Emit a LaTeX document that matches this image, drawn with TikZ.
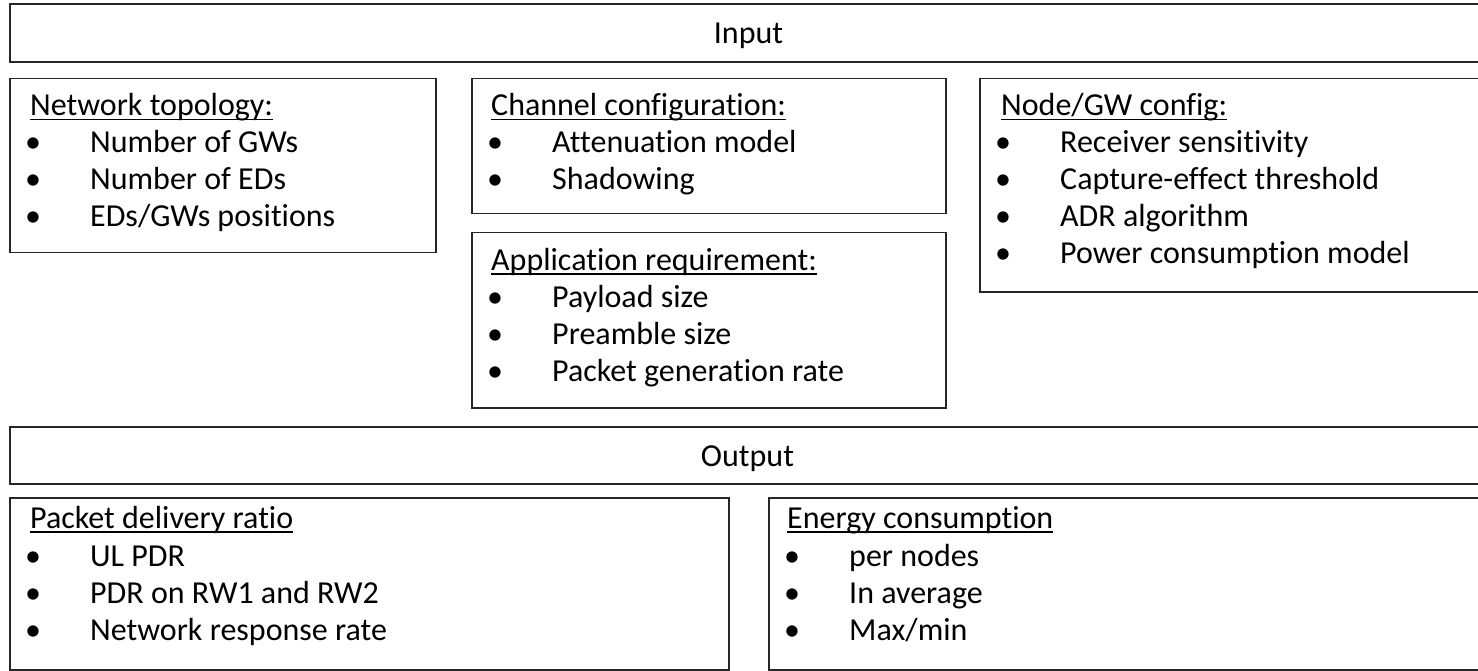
\documentclass[tikz,border=0pt]{standalone}
\usepackage{fontspec}
\setmainfont{Carlito}[Ligatures={NoCommon,NoContextual}]

% underline at a fixed depth, drawn through descenders
\newsavebox\ulbox
\newcommand\ulined[1]{\sbox\ulbox{#1}\rlap{\rule[-4.5pt]{\wd\ulbox}{1.5pt}}\usebox\ulbox}

\tikzset{
  panel/.style={draw=black!85, line width=1.5pt, rectangle, inner sep=0pt, anchor=north west},
  txt/.style={inner sep=0pt, anchor=base west, font=\fontsize{32}{37}\selectfont},
  ctxt/.style={txt, anchor=base},
  dotmark/.style={inner sep=0pt, anchor=base, font=\fontsize{32}{37}\selectfont},
}

% a framed panel: name, left, top, right, bottom
\newcommand\panel[5]{%
  \node[panel, minimum width={#4-#2}, minimum height={#5-#3}] (#1) at (#2,#3) {};}

% bulleted list: name prefix, bullet x, text x, first baseline, items
\newcommand\bulletlist[5]{%
  \foreach \t [count=\i from 0] in {#5} {
    \node[dotmark] (#1-b\i) at ({#2},{#4+37*\i}) {\textbullet};
    \node[txt] (#1-t\i) at ({#3},{#4+37*\i}) {\t};
  }}

\begin{document}
\begin{tikzpicture}[x=1pt, y=-1pt]
  \useasboundingbox (0,0) rectangle (1478,671);
  \clip (0,0) rectangle (1478,671);

  % ---- input side ----
  \panel{input}{9}{3.5}{1488}{61.5}
  \node[ctxt] (inputlbl) at (748.5,44) {Input};

  \panel{topo}{9}{78}{435}{252}
  \node[txt] (topo-title) at (30,116) {\ulined{Network topology:}};
  \bulletlist{topo}{33}{90}{153}{Number of GWs, Number of EDs, EDs/GWs positions}

  \panel{chan}{471}{78}{945}{213}
  \node[txt] (chan-title) at (491,116) {\ulined{Channel configuration:}};
  \bulletlist{chan}{495}{552}{153}{Attenuation model, Shadowing}

  \panel{app}{471}{232}{945}{407}
  \node[txt] (app-title) at (491,270) {\ulined{Application requirement:}};
  \bulletlist{app}{495}{552}{307}{Payload size, Preamble size, Packet generation rate}

  \panel{nodecfg}{979}{78}{1488}{291}
  \node[txt] (nodecfg-title) at (1001,116) {\ulined{Node/GW config:}};
  \bulletlist{nodecfg}{1003}{1060}{153}{Receiver sensitivity, Capture-effect threshold, ADR algorithm, Power consumption model}

  % ---- output side ----
  \panel{output}{9}{426}{1488}{483}
  \node[ctxt] (outputlbl) at (747.5,466) {Output};

  \panel{pdr}{9}{497}{728}{669}
  \node[txt] (pdr-title) at (30,528) {\ulined{Packet delivery ratio}};
  \bulletlist{pdr}{33}{90}{566}{UL PDR, PDR on RW1 and RW2, Network response rate}

  \panel{energy}{768}{497}{1488}{669}
  \node[txt] (energy-title) at (787,528) {\ulined{Energy consumption}};
  \bulletlist{energy}{792}{849}{566}{per nodes, In average, Max/min}
\end{tikzpicture}
\end{document}
